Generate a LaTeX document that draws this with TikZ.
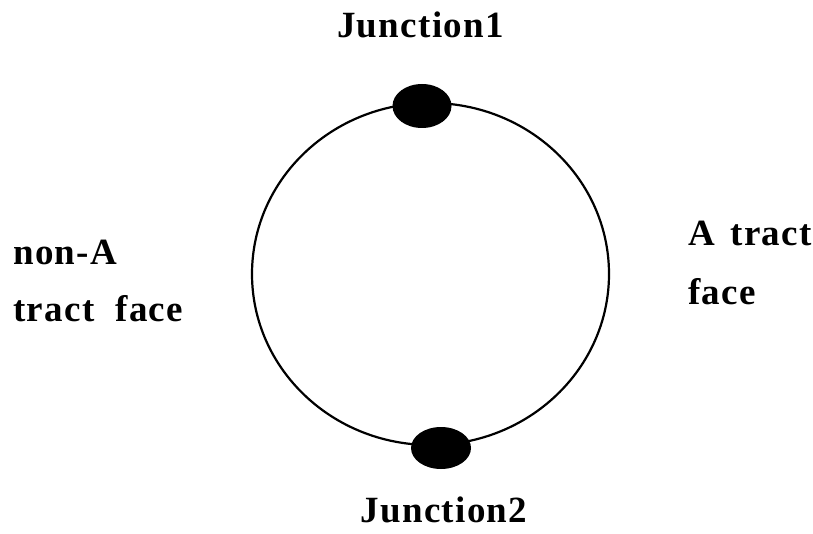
\documentclass[tikz,border=0pt]{standalone}
\usepackage{fontspec}
\setmainfont{Liberation Serif}
\usetikzlibrary{shapes.geometric}
\begin{document}
\begin{tikzpicture}[x=1pt,y=-1pt,
  lbl/.style={font=\fontsize{37}{40}\selectfont\bfseries\addfontfeatures{LetterSpace=3.5}, inner sep=0pt},
  junc/.style={ellipse, fill=black, inner sep=0pt}]
\useasboundingbox (0,0) rectangle (813,534);
\node[draw, line width=2.2pt, ellipse, minimum width=357pt, minimum height=342pt, inner sep=0pt] (ring) at (430.5,274) {};
\node[junc, minimum width=59pt, minimum height=44pt] (j1) at (422,106) {};
\node[junc, minimum width=60pt, minimum height=42pt] (j2) at (441,448) {};
\node[lbl, anchor=base] (t1) at (420.5,38) {Junction1};
\node[lbl, anchor=base] (t2) at (444,522) {Junction2};
\node[lbl, anchor=base west] (l1) at (13,265) {non-A};
\node[lbl, anchor=base west] (l2) at (13,321) {tract\ \ face};
\node[lbl, anchor=base west] (r1) at (688,246) {A\hspace{5pt} tract};
\node[lbl, anchor=base west] (r2) at (688,305) {face};
\end{tikzpicture}
\end{document}
